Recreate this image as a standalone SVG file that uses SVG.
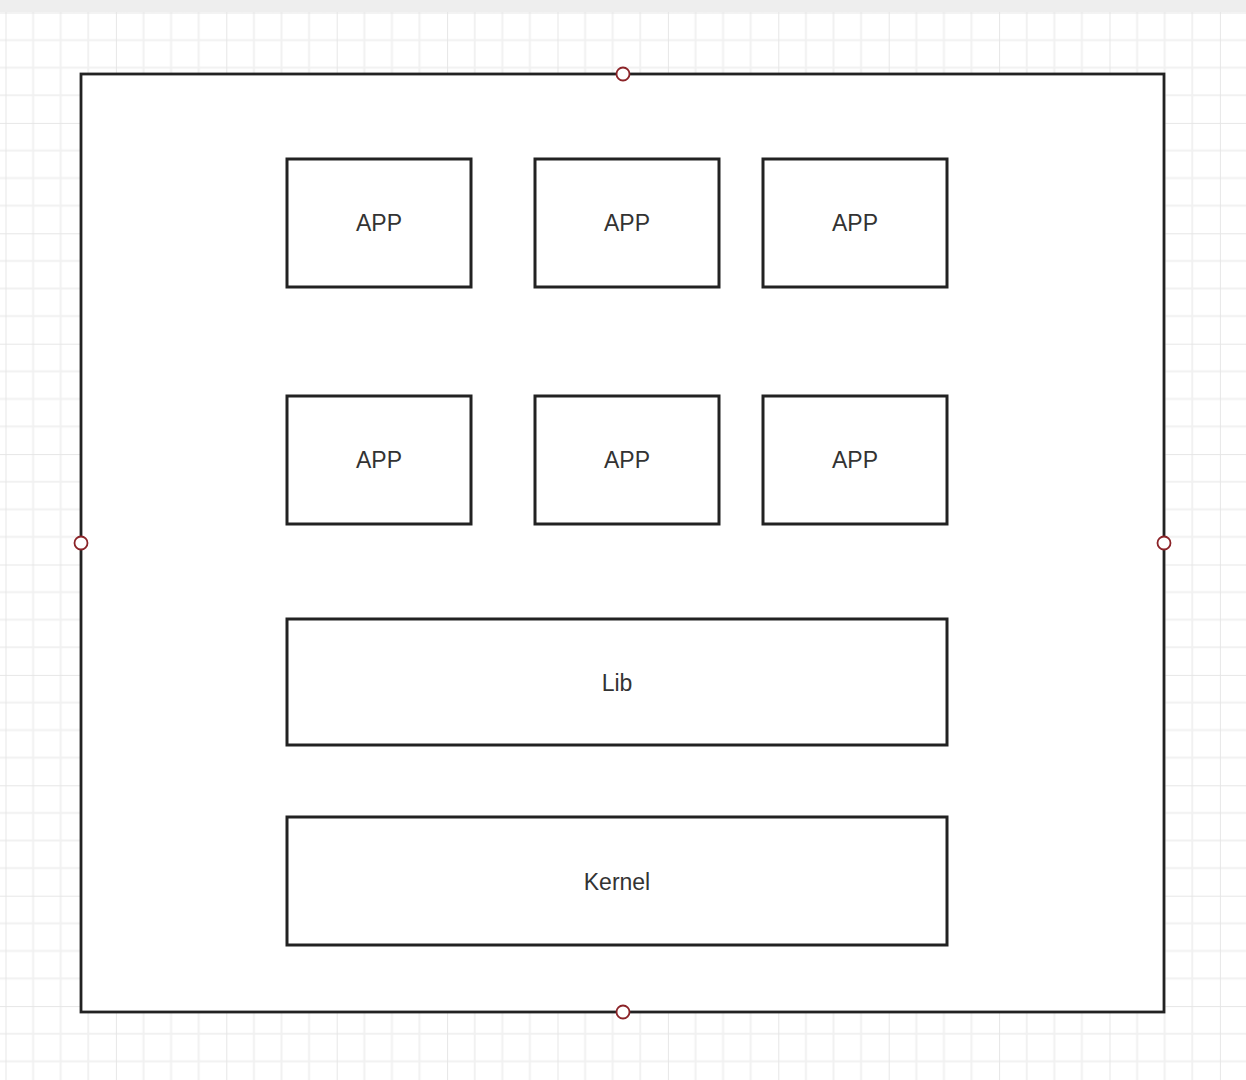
<svg xmlns="http://www.w3.org/2000/svg" width="1246" height="1080" viewBox="0 0 1246 1080">
<defs>
<pattern id="grid" patternUnits="userSpaceOnUse" x="5.5" y="12.5" width="110.4" height="110.4">
<path d="M27.6 0V110.4M55.2 0V110.4M82.8 0V110.4M0 27.6H110.4M0 55.2H110.4M0 82.8H110.4" stroke="#f1f1f1" stroke-width="2" fill="none"/>
<path d="M0 0V110.4M0 0H110.4" stroke="#e6e6e6" stroke-width="2" fill="none"/>
</pattern>
<style>
.box{fill:#ffffff;stroke:#222222;stroke-width:3}
.outer{fill:#ffffff;stroke:#222222;stroke-width:2.8}
.lbl{font-family:"Liberation Sans",Arial,sans-serif;font-size:23px;fill:#333333;text-anchor:middle;dominant-baseline:central}
.handle{fill:#ffffff;stroke:#8b2328;stroke-width:1.8}
</style>
</defs>
<rect x="0" y="0" width="1246" height="1080" fill="#ffffff"/>
<rect x="0" y="0" width="1246" height="1080" fill="url(#grid)"/>
<rect x="0" y="0" width="1246" height="12" fill="#eeeeee"/>
<g id="container">
<rect class="outer" x="81" y="74" width="1083" height="938"/>
</g>
<g id="app1"><rect class="box" x="287" y="159" width="184" height="128"/><text class="lbl" x="379" y="223">APP</text></g>
<g id="app2"><rect class="box" x="535" y="159" width="184" height="128"/><text class="lbl" x="627" y="223">APP</text></g>
<g id="app3"><rect class="box" x="763" y="159" width="184" height="128"/><text class="lbl" x="855" y="223">APP</text></g>
<g id="app4"><rect class="box" x="287" y="396" width="184" height="128"/><text class="lbl" x="379" y="460">APP</text></g>
<g id="app5"><rect class="box" x="535" y="396" width="184" height="128"/><text class="lbl" x="627" y="460">APP</text></g>
<g id="app6"><rect class="box" x="763" y="396" width="184" height="128"/><text class="lbl" x="855" y="460">APP</text></g>
<g id="lib"><rect class="box" x="287" y="619" width="660" height="126"/><text class="lbl" x="617" y="683">Lib</text></g>
<g id="kernel"><rect class="box" x="287" y="817" width="660" height="128"/><text class="lbl" x="617" y="882">Kernel</text></g>
<g id="connectors"></g>
<g id="handles">
<circle class="handle" cx="623" cy="74" r="6.5"/>
<circle class="handle" cx="81" cy="543" r="6.5"/>
<circle class="handle" cx="1164" cy="543" r="6.5"/>
<circle class="handle" cx="623" cy="1012" r="6.5"/>
</g>
</svg>
